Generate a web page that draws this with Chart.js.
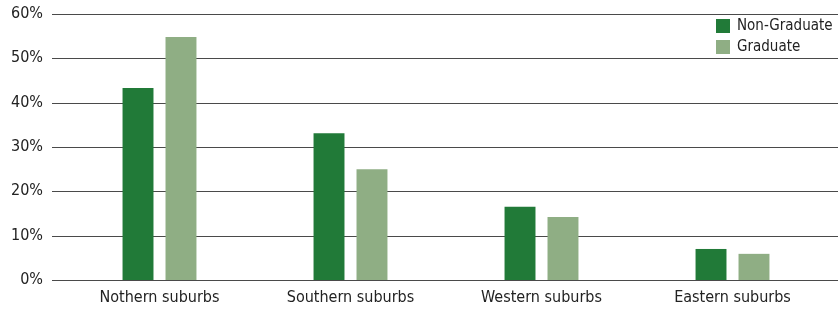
<!DOCTYPE html>
<html>
<head>
<meta charset="utf-8">
<script src="https://cdn.jsdelivr.net/npm/chart.js@4.4.1/dist/chart.umd.min.js"></script>
<style>
  html, body { margin: 0; padding: 0; background: #fff; }
  #wrap { width: 838px; height: 309px; }
</style>
</head>
<body>
<div id="wrap"><canvas id="chart"></canvas></div>
<script>
var categories = ["Nothern suburbs", "Southern suburbs", "Western suburbs", "Eastern suburbs"];
var nonGraduate = [43.3, 33.1, 16.5, 7.0];
var graduate = [54.8, 25.0, 14.2, 5.9];
var yTicks = [0, 10, 20, 30, 40, 50, 60];

var FONT = "'Liberation Sans Narrow', 'DejaVu Sans Condensed', sans-serif";
var DARK = "#217a38";
var LIGHT = "#8fae84";

// grid lines run wider than the bars area, so draw them by hand from the y scale
var wideGrid = {
    id: 'wideGrid',
    beforeDatasetsDraw: function(chart) {
        var ctx = chart.ctx;
        var y = chart.scales.y;
        ctx.save();
        ctx.strokeStyle = '#4a4a4a';
        ctx.lineWidth = 1;
        y.ticks.forEach(function(t) {
            var py = Math.round(y.getPixelForValue(t.value)) + 0.5;
            ctx.beginPath();
            ctx.moveTo(52, py);
            ctx.lineTo(838, py);
            ctx.stroke();
        });
        ctx.restore();
    }
};

// legend sits inside the plot, top right
var boxLegend = {
    id: 'boxLegend',
    afterDraw: function(chart) {
        var ctx = chart.ctx;
        ctx.save();
        ctx.font = '15px ' + FONT;
        ctx.textBaseline = 'middle';
        ctx.textAlign = 'left';
        chart.data.datasets.forEach(function(ds, i) {
            var top = 19 + i * 21;
            ctx.fillStyle = ds.backgroundColor;
            ctx.fillRect(716, top, 14, 14);
            ctx.fillStyle = '#222';
            ctx.fillText(ds.label, 737, top + 7);
        });
        ctx.restore();
    }
};

new Chart(document.getElementById("chart"), {
    type: 'bar',
    data: {
        labels: categories,
        datasets: [{
            label: "Non-Graduate",
            backgroundColor: DARK,
            data: nonGraduate
        }, {
            label: "Graduate",
            backgroundColor: LIGHT,
            data: graduate
        }]
    },
    options: {
        responsive: true,
        maintainAspectRatio: false,
        animation: false,
        layout: { padding: { top: 14, right: 10, bottom: 2, left: 0 } },
        plugins: {
            legend: { display: false },
            tooltip: { enabled: false }
        },
        datasets: {
            bar: { categoryPercentage: 0.45, barPercentage: 0.72 }
        },
        scales: {
            x: {
                afterFit: function(axis) {
                    axis.height = 27;
                    axis.paddingLeft = 0;
                    axis.paddingRight = 0;
                },
                grid: { display: false, drawTicks: false },
                border: { display: false },
                ticks: { color: '#222', font: { family: FONT, size: 16 }, padding: 8, maxRotation: 0 }
            },
            y: {
                min: 0,
                max: 60,
                afterBuildTicks: function(axis) {
                    axis.ticks = yTicks.map(function(v) { return { value: v }; });
                },
                afterFit: function(axis) {
                    axis.width = 64;
                    axis.paddingTop = 0;
                    axis.paddingBottom = 0;
                },
                grid: { display: false, drawTicks: false },
                border: { display: false },
                ticks: {
                    color: '#222',
                    font: { family: FONT, size: 16 },
                    padding: 21,
                    callback: function(v) { return v + '%'; }
                }
            }
        }
    },
    plugins: [wideGrid, boxLegend]
});
</script>
</body>
</html>
